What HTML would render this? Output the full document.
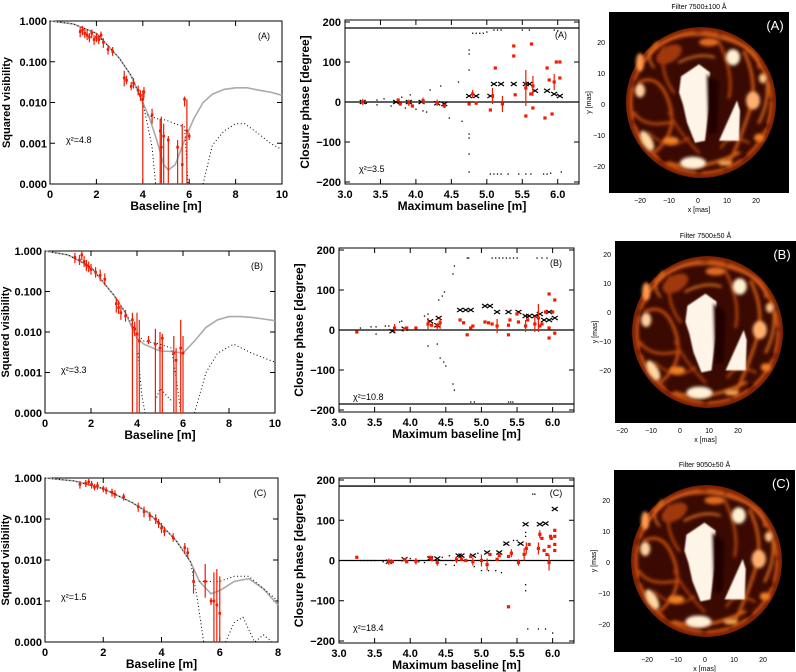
<!DOCTYPE html>
<html><head><meta charset="utf-8"><style>
html,body{margin:0;padding:0;background:#fff;}
svg{display:block;font-family:"Liberation Sans",sans-serif;}
.tk{font-size:11px;font-weight:bold;fill:#000;}
.ttl{font-size:12px;font-weight:bold;fill:#000;}
.yttl{font-size:11px;font-weight:bold;fill:#000;}
.sm{font-size:9px;fill:#000;}
.imgt{font-size:7px;fill:#000;}
</style></head><body>
<svg id="fig" width="796" height="672" viewBox="0 0 796 672">
<defs>
<filter id="bl" x="-20%" y="-20%" width="140%" height="140%"><feGaussianBlur stdDeviation="1.6"/></filter>
<filter id="bl2" x="-20%" y="-20%" width="140%" height="140%"><feGaussianBlur stdDeviation="0.8"/></filter>
<g id="star">
<rect x="0" y="0" width="180" height="180" fill="#000"/>
<circle cx="92" cy="90" r="75" fill="#3a0a02"/>
<circle cx="92" cy="90" r="72" fill="none" stroke="#7a2206" stroke-width="6"/>
<g filter="url(#bl)" fill="none" stroke-linecap="round">
<circle cx="92" cy="90" r="70" stroke="#c04a0c" stroke-width="3" stroke-dasharray="20 8 30 10 14 6"/>
<path d="M40,40 Q70,15 110,25 T150,55" stroke="#d8601a" stroke-width="3"/>
<path d="M30,70 Q50,60 60,90 T45,140" stroke="#c8500e" stroke-width="3"/>
<path d="M55,35 Q50,60 65,80" stroke="#b8440a" stroke-width="2.5"/>
<path d="M135,40 Q150,70 140,100 T120,150" stroke="#d05a14" stroke-width="3"/>
<path d="M60,150 Q90,160 130,140" stroke="#d86418" stroke-width="3"/>
<path d="M60,100 Q70,120 90,140" stroke="#a83a08" stroke-width="2.5"/>
<path d="M110,30 Q125,60 120,85" stroke="#c0480c" stroke-width="2.5"/>
<path d="M25,100 Q35,115 60,110" stroke="#c8500e" stroke-width="2.5"/>
<path d="M150,110 Q160,90 158,70" stroke="#e07020" stroke-width="2.5"/>
<path d="M70,50 Q90,40 105,45" stroke="#e87828" stroke-width="2"/>
<path d="M45,55 Q35,45 48,30" stroke="#e07020" stroke-width="2"/>
<path d="M40,120 Q60,140 80,125" stroke="#b8440a" stroke-width="2"/>
<path d="M140,130 Q120,120 112,135" stroke="#c8500e" stroke-width="2"/>
</g>
<g filter="url(#bl)">
<ellipse cx="60" cy="42" rx="14" ry="8" fill="#a0380a" transform="rotate(-30 60 42)"/>
<ellipse cx="124" cy="45" rx="7" ry="8" fill="#fff0d0"/>
<ellipse cx="144" cy="88" rx="7" ry="9" fill="#ffb070"/>
<ellipse cx="31" cy="78" rx="5" ry="7" fill="#ffd0a0"/>
<ellipse cx="38" cy="128" rx="5" ry="11" fill="#ffd8a0" transform="rotate(-30 38 128)"/>
<ellipse cx="84" cy="150" rx="13" ry="6" fill="#fff0d8"/>
<ellipse cx="31" cy="50" rx="4" ry="9" fill="#ff9a50"/>
<ellipse cx="154" cy="66" rx="4" ry="5" fill="#ffc080"/>
<ellipse cx="100" cy="30" rx="10" ry="4" fill="#e06a20"/>
<ellipse cx="62" cy="128" rx="8" ry="4" fill="#f08028"/>
<ellipse cx="150" cy="125" rx="5" ry="4" fill="#f08028"/>
<ellipse cx="116" cy="150" rx="7" ry="3" fill="#f0a050"/>
</g>
<polygon points="72,64 90,52 101,60 100,96 96,128 86,130 78,110 74,92 70,80" fill="#fff4e8" filter="url(#bl2)"/>
<polygon points="128,88 131,98 130,128 110,128" fill="#fff4e8" filter="url(#bl2)"/>
<polygon points="98,62 110,70 108,120 100,122" fill="#200400" filter="url(#bl)"/>
</g>
</defs>
</svg>
<script>
// ---------- DATA: squared visibility panels ----------
const visAX=[1.3,1.4,1.5,1.6,1.7,1.8,1.9,2.0,2.1,2.2,2.3,2.5,2.7,3.2,3.3,3.5,3.6,3.8,3.9,4.0,4.05,4.4,4.75,4.8,4.9,5.1,5.5,5.7,5.8,5.9,6.0];
const visAV=[.55,.6,.5,.45,.4,.5,.35,.4,.35,.45,.3,.2,.18,.04,.035,.025,.03,.02,.015,.012,.018,.005,.002,.0008,.0015,.0012,.0008,.0003,.012,.002,.0015];
const visALo=[.4,.45,.38,.34,.3,.38,.26,.3,.27,.34,.22,.15,.14,.025,.028,.02,.022,.015,.011,.0001,.013,.003,.0001,.0001,.0001,.0001,.0001,.0001,.008,.0001,.0012];
const visAHi=[.7,.75,.65,.6,.5,.62,.45,.5,.45,.55,.38,.26,.23,.06,.045,.032,.04,.026,.02,.02,.024,.007,.004,.0045,.003,.0015,.0012,.003,.014,.012,.0018];
const modAX=[0,1,2,2.5,3,3.5,4,4.3,4.6,4.9,5.1,5.4,5.8,6.2,6.6,7,7.5,8,8.5,9,9.5,10];
const modAV=[1,.85,.5,.25,.12,.045,.01,.004,.0012,.0003,.00022,.0003,.0012,.004,.01,.016,.021,.023,.023,.02,.018,.015];
const dotAX=[0,1,2,3,3.5,4,4.2,4.4,4.55,null,4.2,4.6,5,5.4,5.8,5.95,null,6.6,7,7.5,8,8.4,9,9.5,10];
const dotAV=[1,.85,.5,.12,.045,.01,.003,.0008,.0001,null,.005,.004,.0037,.003,.0025,.0001,null,.0001,.0009,.002,.003,.003,.0017,.001,.0007];
const visBX=[1.3,1.5,1.6,1.7,1.8,1.9,2.0,2.2,2.4,2.6,3.1,3.2,3.3,3.5,3.8,3.9,4.0,4.1,4.5,4.8,5.0,5.1,5.6,5.7,5.9,6.0];
const visBV=[.7,.6,.8,.55,.45,.4,.35,.3,.25,.2,.05,.04,.03,.025,.02,.012,.009,.006,.006,.005,.004,.007,.003,.002,.004,.003];
const visBLo=[.5,.45,.6,.4,.32,.3,.26,.22,.18,.14,.03,.028,.02,.018,.0001,.008,.0001,.0001,.005,.0001,.0001,.0001,.0001,.0001,.0001,.0001];
const visBHi=[.9,.8,1,.75,.6,.55,.48,.4,.35,.28,.07,.06,.045,.035,.03,.018,.03,.02,.008,.012,.01,.009,.008,.004,.02,.008];
const modBX=[0,1,2,3,3.5,3.8,4,4.3,5,5.5,6,6.5,7,7.5,8,8.5,9,9.5,10];
const modBV=[1,.8,.4,.08,.03,.012,.007,.005,.0034,.0033,.003,.006,.013,.02,.024,.024,.023,.021,.019];
const dotBX=[0,1,2,3,3.5,4,4.3,5,5.5,5.8,5.9,null,4.05,4.2,4.35,null,4.8,5,5.5,null,6.5,7,7.5,8.2,9,10];
const dotBV=[1,.8,.4,.08,.03,.009,.006,.005,.004,.0003,.0001,null,.003,.0003,.0001,null,.0002,.0004,.0002,null,.0001,.001,.003,.005,.003,.0018];
const visCX=[1.2,1.4,1.5,1.6,1.7,1.8,2.0,2.1,2.3,2.4,2.7,3.2,3.4,3.6,3.8,3.9,4.0,4.1,4.4,4.8,4.9,5.1,5.5,5.7,5.8,5.9,6.0];
const visCV=[.7,.75,.8,.7,.6,.65,.55,.5,.45,.4,.35,.2,.15,.12,.1,.08,.06,.05,.035,.02,.015,.003,.003,.001,.001,.0008,.0005];
const visCLo=[.55,.6,.65,.55,.5,.52,.45,.4,.35,.32,.28,.15,.11,.09,.075,.06,.045,.038,.028,.015,.011,.0015,.0012,.0008,.0001,.0001,.0001];
const visCHi=[.85,.9,.95,.85,.72,.8,.65,.6,.55,.5,.42,.25,.2,.15,.13,.1,.08,.065,.045,.026,.02,.006,.008,.0012,.005,.006,.004];
const modCX=[0,1,2,3,3.5,4,4.5,5,5.3,5.7,6,6.5,7,7.5,8];
const modCV=[1,.85,.55,.25,.15,.07,.03,.009,.003,.0015,.0018,.003,.0035,.002,.0008];
const dotCX=[0,1,2,3,3.5,4,4.5,5,5.2,5.45,null,5.3,5.6,6.0,6.5,7,7.5,8,null,6.2,6.5,6.8,7.2,7.5,7.8];
const dotCV=[1,.85,.55,.25,.15,.07,.03,.009,.0015,.0001,null,.003,.003,.003,.004,.004,.002,.001,null,.0001,.0003,.0004,.0001,.00015,.0001];
const visTicks=["1.000","0.100","0.010","0.001","0.000"];

// ---------- DATA: closure phase panels ----------
const cpAX=[3.25,3.75,3.78,3.9,3.95,4.1,4.3,4.4,4.75,4.8,4.85,5.05,5.08,5.12,5.22,5.38,5.38,5.4,5.55,5.55,5.62,5.63,5.65,5.65,5.82,5.85,5.88,5.95,5.98,6.03,6.03,5.92];
const cpAP=[0,5,-5,-2,-10,3,-2,-10,-5,20,-3,-20,15,85,-5,140,115,18,35,-35,20,145,40,-15,-40,85,55,50,100,100,60,-30];
const cpAE=[8,0,0,8,0,8,8,5,0,10,0,0,20,0,20,0,0,0,45,0,0,0,25,0,0,0,0,20,0,0,0,0];
const xmAX=[3.25,3.72,3.9,4.08,4.3,4.4,4.75,4.85,5.05,5.1,5.2,5.38,5.55,5.6,5.68,5.85,5.95,6.03];
const xmAP=[0,0,0,0,-3,-5,15,15,15,45,45,45,45,45,28,28,20,15];
const mdAX=[3.3,3.45,3.45,3.55,3.65,3.8,3.85,3.92,4.0,4.1,4.15,4.2,4.35,4.47,4.6,4.65,4.75,4.75,4.75,4.75,4.75,4.75,4.75,4.8,4.85,4.9,4.95,5.0,5.1,5.15,5.2,5.5,5.6,5.95,6.0,5.05,5.1,5.15,5.2,5.3,5.45,5.55,5.62,5.8,5.85,5.9,6.05];
const mdAP=[-3,5,-7,8,-10,12,-15,18,-18,-22,-25,30,40,-40,50,-48,80,120,130,-80,-90,-130,-175,172,172,172,172,175,180,180,180,180,180,180,178,-180,-180,-180,-180,-180,-180,-180,-180,-180,-180,-178,-175];
const cpBX=[3.25,3.78,3.92,3.95,4.08,4.25,4.3,4.38,4.42,4.7,4.75,4.8,4.85,4.88,5.05,5.1,5.15,5.22,5.38,5.38,5.4,5.5,5.52,5.62,5.65,5.75,5.8,5.82,5.85,5.9,5.95,5.95,5.95,6.03,6.03,6.0];
const cpBP=[-5,5,3,5,5,15,12,10,18,25,18,-12,5,10,20,18,15,10,12,-12,25,40,20,10,25,15,30,10,15,45,90,-20,5,75,-8,45];
const cpBE=[0,10,0,0,0,15,0,8,15,0,0,0,0,0,0,0,0,18,0,0,0,0,0,15,0,20,35,0,0,0,0,0,0,0,0,0];
const xmBX=[3.75,3.92,4.28,4.38,4.4,4.7,4.78,4.85,5.05,5.12,5.22,5.38,5.52,5.62,5.67,5.75,5.82,5.88,5.95,5.95,6.03];
const xmBP=[-3,3,22,12,30,50,50,50,60,60,45,45,45,35,35,35,40,25,45,25,30];
const mdBX=[3.25,3.3,3.45,3.52,3.52,3.65,3.7,3.85,3.88,3.9,4.2,4.25,4.25,4.38,4.4,4.45,4.48,4.42,4.47,4.5,4.6,4.62,4.6,4.62,4.8,4.82,5.15,5.2,5.25,5.3,5.35,5.4,5.45,5.5,5.78,5.85,5.92,4.85,4.9,5.38,5.41,5.44];
const mdBP=[-5,5,8,8,-10,10,10,20,22,-2,35,40,-40,-35,75,85,95,-70,-80,-90,-135,-150,140,160,180,180,180,180,180,180,180,180,180,180,180,180,180,-180,-180,-180,-180,-180];
const cpCX=[3.25,3.7,3.75,3.92,3.95,4.08,4.28,4.3,4.38,4.65,4.72,4.78,4.85,4.88,5.0,5.08,5.12,5.22,5.25,5.38,5.38,5.42,5.52,5.6,5.63,5.67,5.8,5.82,5.85,5.88,5.92,5.95,5.95,5.97,5.98,6.03,6.03,6.03,6.03];
const cpCP=[8,-3,-3,2,-3,-2,8,3,-5,2,3,0,10,-3,0,-10,15,3,12,-115,10,18,-5,15,30,40,30,65,55,25,15,35,-5,60,55,75,60,40,25];
const cpCE=[0,8,0,0,0,8,0,0,8,8,0,0,0,10,15,15,0,0,0,0,0,10,8,15,15,0,15,10,0,0,0,0,20,0,0,0,0,0,0];
const xmCX=[3.7,3.92,4.28,4.38,4.68,4.72,4.88,5.08,5.25,5.35,5.55,5.62,5.82,5.9,6.03];
const xmCP=[-3,3,5,5,12,12,12,20,20,42,42,90,90,92,128];
const mdCX=[3.3,3.35,3.4,3.45,3.5,3.62,3.68,4.0,4.12,4.2,4.45,4.55,4.5,4.62,4.9,4.95,5.0,5.1,5.2,5.28,5.32,5.45,5.5,5.62,5.62,5.62,5.62,5.65,5.72,5.75,5.8,5.9,6.0];
const mdCP=[0,0,0,0,0,-3,-3,5,-3,-5,8,12,-10,-12,-15,18,-25,-25,-25,-30,40,50,50,70,60,-60,-75,-170,165,165,-170,-170,-180];
const cpTicksV=[200,100,0,-100,-200];
const cpTicksX=[3.0,3.5,4.0,4.5,5.0,5.5,6.0];

// ---------- drawing helpers ----------
const NS="http://www.w3.org/2000/svg";
const svg=document.getElementById('fig');
function mk(tag,attrs,parent){const e=document.createElementNS(NS,tag);for(const k in attrs)e.setAttribute(k,attrs[k]);(parent||svg).appendChild(e);return e;}
function txt(x,y,s,cls,anchor,parent){const t=mk('text',{x:x,y:y,'class':cls,'text-anchor':anchor||'middle'},parent);t.textContent=s;return t;}

function visPanel(P){
  const g=mk('g',{});
  
  
  const sx=v=>P.x0+(v/P.xmax)*(P.x1-P.x0);
  const sy=v=>{const l=Math.log10(Math.max(v,1e-4));return P.y0+(-l)*(P.y1-P.y0)/4;};
  const frame=mk('rect',{x:P.x0,y:P.y0,width:P.x1-P.x0,height:P.y1-P.y0,fill:'none',stroke:'#000','stroke-width':1},g);
  
  
  for(let i=0;i<=P.xmax;i+=2){const x=sx(i);mk('line',{x1:x,y1:P.y1,x2:x,y2:P.y1-5,stroke:'#000'},g);mk('line',{x1:x,y1:P.y0,x2:x,y2:P.y0+5,stroke:'#000'},g);
    const t=txt(x,P.y1+14,String(i),'tk','middle',g);}
  for(let i=0;i<5;i++){const y=P.y0+i*(P.y1-P.y0)/4;mk('line',{x1:P.x0,y1:y,x2:P.x0+5,y2:y,stroke:'#000'},g);mk('line',{x1:P.x1,y1:y,x2:P.x1-5,y2:y,stroke:'#000'},g);
    const t=txt(P.x0-3,y+4,visTicks[i],'tk','end',g);}
  const xt=txt((P.x0+P.x1)/2,P.y1+26,'Baseline [m]','ttl','middle',g);
  
  const yt=txt(0,0,'Squared visibility','yttl','middle',g);
  yt.setAttribute('transform','translate('+P.ytx+','+((P.y0+P.y1)/2)+') rotate(-90)');
  
  const lab=txt(P.x1-18,P.y0+18,'('+P.tag.toUpperCase()+')','sm','middle',g);
  
  const chi=txt(P.x0+16,P.y0+122,'χ²='+P.chi,'sm','start',g);
  
  let d='';P.mx.forEach((x,i)=>{d+=(i?'L':'M')+sx(x).toFixed(1)+' '+sy(P.mv[i]).toFixed(1);});
  const gl=mk('path',{d:d,fill:'none',stroke:'#aaa','stroke-width':1.6},g);
  
  d='';let pen=false;P.dx.forEach((x,i)=>{if(x===null){pen=false;return;}d+=(pen?'L':'M')+sx(x).toFixed(1)+' '+sy(P.dv[i]).toFixed(1);pen=true;});
  const dl=mk('path',{d:d,fill:'none',stroke:'#000','stroke-width':1,'stroke-dasharray':'1 2.5'},g);
  
  P.bx.forEach((x,i)=>{const X=sx(x);
    const e=mk('line',{x1:X,y1:sy(P.lo[i]),x2:X,y2:sy(P.hi[i]),stroke:'#f21a00','stroke-width':1.2},g);
    
    const p=mk('rect',{x:X-1.3,y:sy(P.bv[i])-1.3,width:2.6,height:2.6,fill:'#f21a00'},g);
    });
}

function cpPanel(P){
  const g=mk('g',{});
  
  
  const sx=v=>P.x0+(v-3)/3.3*(P.x1-P.x0);
  const sy=v=>P.y0+(205-v)/410*(P.y1-P.y0);
  const frame=mk('rect',{x:P.x0,y:P.y0,width:P.x1-P.x0,height:P.y1-P.y0,fill:'none',stroke:'#000'},g);
  
  cpTicksX.forEach(v=>{const x=sx(v);mk('line',{x1:x,y1:P.y1,x2:x,y2:P.y1-5,stroke:'#000'},g);mk('line',{x1:x,y1:P.y0,x2:x,y2:P.y0+5,stroke:'#000'},g);
    const t=txt(x,P.y1+14,v.toFixed(1),'tk','middle',g);});
  cpTicksV.forEach(v=>{const y=sy(v);mk('line',{x1:P.x0,y1:y,x2:P.x0+5,y2:y,stroke:'#000'},g);mk('line',{x1:P.x1,y1:y,x2:P.x1-5,y2:y,stroke:'#000'},g);
    const t=txt(P.x0-4,y+4,String(v).replace('-','−'),'tk','end',g);});
  const xt=txt((P.x0+P.x1)/2,P.y1+26,'Maximum baseline [m]','ttl','middle',g);
  
  const yt=txt(0,0,'Closure phase [degree]','ttl','middle',g);
  yt.setAttribute('transform','translate('+(P.x0-36)+','+((P.y0+P.y1)/2)+') rotate(-90)');
  
  const lab=txt(P.x1-18,P.y0+18,'('+P.tag.toUpperCase()+')','sm','middle',g);
  
  const chi=txt(P.x0+14,P.y1-12,'χ²='+P.chi,'sm','start',g);
  
  const z=mk('line',{x1:P.x0,y1:sy(0),x2:P.x1,y2:sy(0),stroke:'#000','stroke-width':1.3},g);
  
  const h=mk('line',{x1:P.x0,y1:sy(P.hline),x2:P.x1,y2:sy(P.hline),stroke:'#000','stroke-width':1.3},g);
  
  P.mdx.forEach((x,i)=>{const c=mk('rect',{x:sx(x)-0.6,y:sy(P.mdp[i])-0.6,width:1.3,height:1.3,fill:'#000'},g);
    });
  P.xmx.forEach((x,i)=>{const X=sx(x),Y=sy(P.xmp[i]);
    const m=mk('path',{d:'M'+(X-3)+' '+(Y-2)+'L'+(X+3)+' '+(Y+2)+'M'+(X-3)+' '+(Y+2)+'L'+(X+3)+' '+(Y-2),stroke:'#000','stroke-width':1.2},g);
    });
  P.cx.forEach((x,i)=>{const X=sx(x),Y=sy(P.cp[i]);
    if(P.ce[i]>0){const e=mk('line',{x1:X,y1:sy(P.cp[i]+P.ce[i]),x2:X,y2:sy(P.cp[i]-P.ce[i]),stroke:'#f21a00','stroke-width':1.2},g);
      }
    const p=mk('rect',{x:X-1.6,y:Y-1.6,width:3.2,height:3.2,fill:'#f21a00'},g);
    });
}

function imgPanel(P){
  const g=mk('g',{});
  
  
  const s=(P.x1-P.x0)/180;
  const u=mk('use',{href:'#star',transform:'translate('+P.x0+','+P.y0+') scale('+s+','+((P.y1-P.y0)/180)+')'},g);
  
  const t=txt((P.x0+P.x1)/2,P.y0-3,P.title,'imgt','middle',g);
  
  const l=txt(P.x1-14,P.y0+18,'('+P.tag.toUpperCase()+')','ttl','middle',g);
  l.setAttribute('style','fill:#fff;font-weight:normal;font-size:13px');
  
  ['20','10','0','−10','−20'].forEach((s2,i)=>{const y=P.y0+P.yt+i*P.ys;const a=txt(P.x0-4,y+3,s2,'imgt','end',g);
    });
  ['−20','−10','0','10','20'].forEach((s2,i)=>{const x=P.x0+P.xt+i*P.xs;const a=txt(x,P.y1+10,s2,'imgt','middle',g);
    });
  const xl=txt((P.x0+P.x1)/2,P.y1+19,'x [mas]','imgt','middle',g);
  
  const yl=txt(0,0,'y [mas]','imgt','middle',g);
  yl.setAttribute('transform','translate('+(P.x0-18)+','+((P.y0+P.y1)/2)+') rotate(-90)');
  
}

visPanel({tag:'a',x0:50,x1:282,y0:21,y1:184,xmax:10,ytx:10,chi:'4.8',bx:visAX,bv:visAV,lo:visALo,hi:visAHi,mx:modAX,mv:modAV,dx:dotAX,dv:dotAV});
visPanel({tag:'b',x0:45,x1:275,y0:251,y1:413,xmax:10,ytx:9,chi:'3.3',bx:visBX,bv:visBV,lo:visBLo,hi:visBHi,mx:modBX,mv:modBV,dx:dotBX,dv:dotBV});
visPanel({tag:'c',x0:45,x1:278,y0:478,y1:642,xmax:8,ytx:9,chi:'1.5',bx:visCX,bv:visCV,lo:visCLo,hi:visCHi,mx:modCX,mv:modCV,dx:dotCX,dv:dotCV});
cpPanel({tag:'a',x0:345,x1:579,y0:20,y1:184,chi:'3.5',hline:185,cx:cpAX,cp:cpAP,ce:cpAE,xmx:xmAX,xmp:xmAP,mdx:mdAX,mdp:mdAP});
cpPanel({tag:'b',x0:339,x1:574,y0:248,y1:412,chi:'10.8',hline:-185,cx:cpBX,cp:cpBP,ce:cpBE,xmx:xmBX,xmp:xmBP,mdx:mdBX,mdp:mdBP});
cpPanel({tag:'c',x0:339,x1:574,y0:478,y1:643,chi:'18.4',hline:185,cx:cpCX,cp:cpCP,ce:cpCE,xmx:xmCX,xmp:xmCP,mdx:mdCX,mdp:mdCP});
imgPanel({tag:'a',x0:609,x1:789,y0:12,y1:193,title:'Filter 7500±100 Å',yt:30,ys:31,xt:31,xs:29});
imgPanel({tag:'b',x0:615,x1:796,y0:241,y1:423,title:'Filter 7500±50 Å',yt:13,ys:29,xt:7,xs:29});
imgPanel({tag:'c',x0:614,x1:795,y0:470,y1:652,title:'Filter 9050±50 Å',yt:30,ys:31,xt:33,xs:29});
</script>
</body></html>
